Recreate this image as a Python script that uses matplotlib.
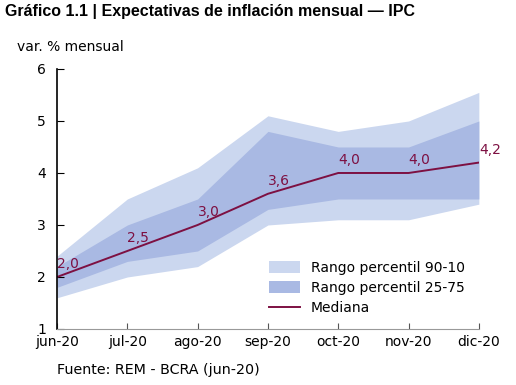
import numpy as np
import matplotlib.pyplot as plt

meses = ['jun-20', 'jul-20', 'ago-20', 'sep-20', 'oct-20', 'nov-20', 'dic-20']
p90 = [2.4, 3.5, 4.1, 5.1, 4.8, 5.0, 5.55]
p10 = [1.6, 2.0, 2.2, 3.0, 3.1, 3.1, 3.4]
p75 = [2.2, 3.0, 3.5, 4.8, 4.5, 4.5, 5.0]
p25 = [1.8, 2.3, 2.5, 3.3, 3.5, 3.5, 3.5]
mediana = [2.0, 2.5, 3.0, 3.6, 4.0, 4.0, 4.2]
etiquetas = ['2,0', '2,5', '3,0', '3,6', '4,0', '4,0', '4,2']

COL_LIGHT = '#cbd7ef'
COL_DARK = '#a9b9e3'
COL_MED = '#7d1042'

fig = plt.figure(figsize=(5.16, 3.85), dpi=100)
ax = fig.add_axes([0.1105, 0.1455, 0.8175, 0.6753])

x = np.arange(len(meses))
ax.fill_between(x, p10, p90, color=COL_LIGHT, lw=0, label='Rango percentil 90-10')
ax.fill_between(x, p25, p75, color=COL_DARK, lw=0, label='Rango percentil 25-75')
ax.plot(x, mediana, color=COL_MED, lw=1.4, label='Mediana')

for xi, yi, t in zip(x, mediana, etiquetas):
  ax.annotate(t, (xi, yi), xytext=(0, 4), textcoords='offset points',
              ha='left', va='bottom', color=COL_MED, fontsize=10)

ax.set_xlim(0, len(meses) - 1)
ax.set_ylim(1, 6)
ax.set_xticks(x)
ax.set_xticklabels(meses, fontsize=10)
ax.set_yticks([1, 2, 3, 4, 5, 6])
ax.tick_params(axis='y', direction='in', length=5, labelsize=10, pad=8)
ax.tick_params(axis='x', direction='in', length=4, color='#555555', labelsize=10, pad=4)
ax.spines['top'].set_visible(False)
ax.spines['right'].set_visible(False)
ax.spines['bottom'].set_color('#999999')
ax.spines['left'].set_linewidth(1.2)

ax.legend(loc='lower right', bbox_to_anchor=(1.0, 0.0), frameon=False, fontsize=10,
          handlelength=2.2, handleheight=0.9, labelspacing=0.45, borderaxespad=0.6)

fig.text(0.01, 0.99, 'Gráfico 1.1 | Expectativas de inflación mensual — IPC',
         fontsize=11.5, fontweight='bold', family='Liberation Sans', va='top', ha='left')
fig.text(0.033, 0.878, 'var. % mensual', fontsize=10, va='center', ha='left')
fig.text(0.11, 0.04, 'Fuente: REM - BCRA (jun-20)', fontsize=10.3, va='center', ha='left')

fig.savefig('out.png', dpi=100)
